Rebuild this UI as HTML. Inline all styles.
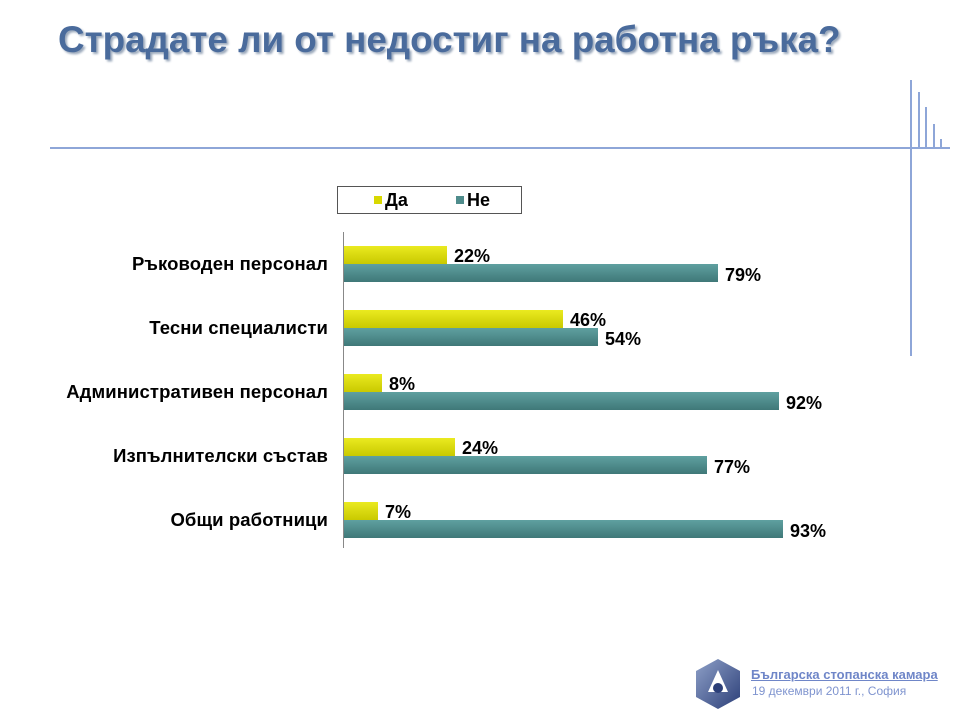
<!DOCTYPE html>
<html><head><meta charset="utf-8"><style>
body{margin:0;width:960px;height:720px;background:#fff;position:relative;overflow:hidden;font-family:"Liberation Sans",sans-serif}
.a{position:absolute}
.title{left:58px;top:19px;font-size:36.8px;font-weight:bold;color:#4a6b9c;text-shadow:2px 2px 2px #9aa8bb;white-space:nowrap}
.cat{right:632px;font-size:18.5px;font-weight:bold;color:#000;text-align:right;white-space:nowrap;letter-spacing:0.1px}
.y{background:linear-gradient(#eaea20,#c9c900);height:18px;left:344px}
.t{background:linear-gradient(#5fa0a0,#3f7878);height:18px;left:344px}
.v{font-size:18px;font-weight:bold;color:#000}
</style></head><body>
<div class="a title">Страдате ли от недостиг на работна ръка?</div>
<div class="a" style="left:50px;top:147px;width:900px;height:2px;background:#8ea6d8"></div>
<div class="a" style="left:910px;top:80px;width:2px;height:276px;background:#8ea6d8"></div>
<div class="a" style="left:918px;top:92px;width:2px;height:56px;background:#8ea6d8"></div>
<div class="a" style="left:925px;top:107px;width:2px;height:41px;background:#8ea6d8"></div>
<div class="a" style="left:933px;top:124px;width:2px;height:24px;background:#8ea6d8"></div>
<div class="a" style="left:940px;top:139px;width:2px;height:9px;background:#8ea6d8"></div>

<div class="a" style="left:337px;top:186px;width:183px;height:26px;border:1px solid #555;font-size:18px;font-weight:bold">
<span class="a" style="left:36px;top:9px;width:8px;height:8px;background:#d8d800"></span><span class="a" style="left:47px;top:3px">Да</span>
<span class="a" style="left:118px;top:9px;width:8px;height:8px;background:#4f8c8c"></span><span class="a" style="left:129px;top:3px">Не</span>
</div>
<div class="a" style="left:343px;top:232px;width:1px;height:316px;background:#888"></div>

<div class="a cat" style="top:253px">Ръководен персонал</div>
<div class="a y" style="top:246px;width:103px"></div><div class="a t" style="top:264px;width:374px"></div>
<div class="a v" style="left:454px;top:246px">22%</div><div class="a v" style="left:725px;top:265px">79%</div>

<div class="a cat" style="top:317px">Тесни специалисти</div>
<div class="a y" style="top:310px;width:219px"></div><div class="a t" style="top:328px;width:254px"></div>
<div class="a v" style="left:570px;top:310px">46%</div><div class="a v" style="left:605px;top:329px">54%</div>

<div class="a cat" style="top:381px">Административен персонал</div>
<div class="a y" style="top:374px;width:38px"></div><div class="a t" style="top:392px;width:435px"></div>
<div class="a v" style="left:389px;top:374px">8%</div><div class="a v" style="left:786px;top:393px">92%</div>

<div class="a cat" style="top:445px">Изпълнителски състав</div>
<div class="a y" style="top:438px;width:111px"></div><div class="a t" style="top:456px;width:363px"></div>
<div class="a v" style="left:462px;top:438px">24%</div><div class="a v" style="left:714px;top:457px">77%</div>

<div class="a cat" style="top:509px">Общи работници</div>
<div class="a y" style="top:502px;width:34px"></div><div class="a t" style="top:520px;width:439px"></div>
<div class="a v" style="left:385px;top:502px">7%</div><div class="a v" style="left:790px;top:521px">93%</div>

<svg class="a" style="left:692px;top:658px" width="52" height="52" viewBox="0 0 52 52">
<defs><linearGradient id="g" x1="0" y1="0" x2="1" y2="1"><stop offset="0" stop-color="#8ea0c8"/><stop offset="1" stop-color="#2c3f78"/></linearGradient></defs>
<polygon points="26,1 48,13 48,39 26,51 4,39 4,13" fill="url(#g)"/>
<polygon points="26,12 16,34 36,34" fill="#fff"/>
<circle cx="26" cy="30" r="5" fill="#2c3f78"/>
</svg>
<div class="a" style="left:751px;top:667px;font-size:13px;color:#6f86c8;text-decoration:underline;font-weight:bold;white-space:nowrap">Българска стопанска камара</div>
<div class="a" style="left:752px;top:684px;font-size:12px;color:#7f94cf;white-space:nowrap">19 декември 2011 г., София</div>
</body></html>
